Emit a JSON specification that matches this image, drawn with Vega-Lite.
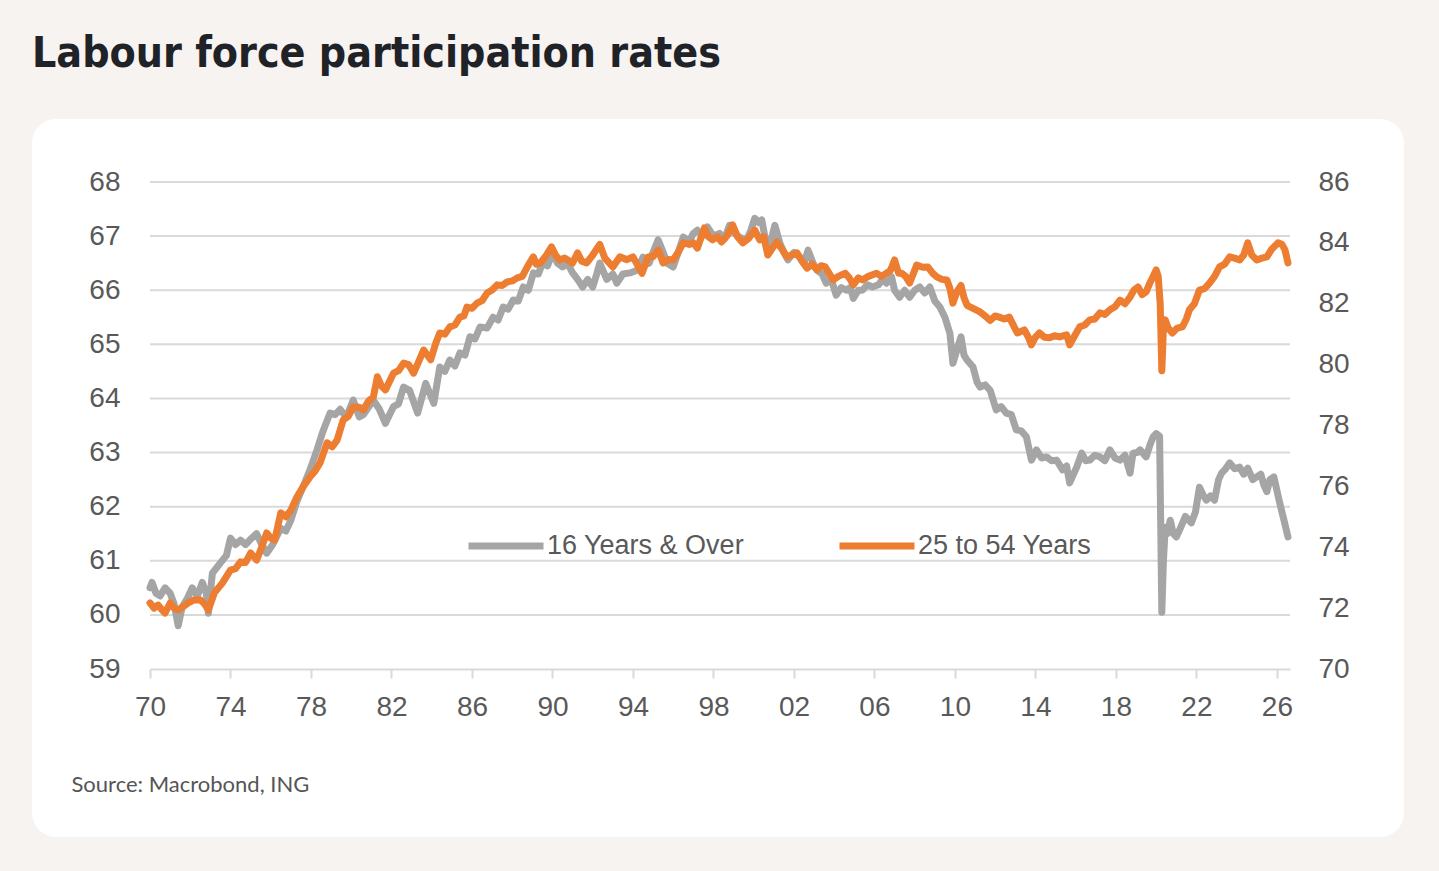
{
  "$schema": "https://vega.github.io/schema/vega-lite/v6.json",
  "width": 1140,
  "height": 487,
  "autosize": {"type": "none"},
  "padding": {"left": 150, "top": 182, "right": 149, "bottom": 202},
  "background": "#f6f3f0",
  "config": {
    "view": {"stroke": null},
    "axis": {"labelFont": "Liberation Sans", "labelFontSize": 28, "labelColor": "#595959", "zindex": 1, "grid": false}
  },
  "title": {
    "text": "Labour force participation rates",
    "anchor": "start",
    "frame": "group",
    "dx": -118,
    "offset": 10,
    "baseline": "alphabetic",
    "font": "DejaVu Sans Condensed, Roboto, sans-serif",
    "fontSize": 42.5,
    "fontWeight": "bold",
    "color": "#1f2226"
  },
  "datasets": {
    "panel": [{"t": 1964.137, "t2": 2032.31, "v": 69.164, "v2": 55.895}],
    "grid": [
      {"t": 1970, "t2": 2026.65, "v": 60}, {"t": 1970, "t2": 2026.65, "v": 61}, {"t": 1970, "t2": 2026.65, "v": 62},
      {"t": 1970, "t2": 2026.65, "v": 63}, {"t": 1970, "t2": 2026.65, "v": 64}, {"t": 1970, "t2": 2026.65, "v": 65},
      {"t": 1970, "t2": 2026.65, "v": 66}, {"t": 1970, "t2": 2026.65, "v": 67}, {"t": 1970, "t2": 2026.65, "v": 68}
    ],
    "all": [
      {"t": 1970.0, "v": 60.5}, {"t": 1970.1, "v": 60.6}, {"t": 1970.3, "v": 60.4}, {"t": 1970.5, "v": 60.35},
      {"t": 1970.75, "v": 60.5}, {"t": 1971.0, "v": 60.4}, {"t": 1971.2, "v": 60.2}, {"t": 1971.4, "v": 59.8},
      {"t": 1971.6, "v": 60.15}, {"t": 1971.85, "v": 60.3}, {"t": 1972.1, "v": 60.5}, {"t": 1972.35, "v": 60.35},
      {"t": 1972.6, "v": 60.6}, {"t": 1972.8, "v": 60.4}, {"t": 1972.9, "v": 60.03}, {"t": 1973.1, "v": 60.77},
      {"t": 1973.5, "v": 60.96}, {"t": 1973.8, "v": 61.1}, {"t": 1974.0, "v": 61.42}, {"t": 1974.25, "v": 61.3},
      {"t": 1974.5, "v": 61.38}, {"t": 1974.75, "v": 61.3}, {"t": 1975.0, "v": 61.4}, {"t": 1975.3, "v": 61.5},
      {"t": 1975.55, "v": 61.3}, {"t": 1975.8, "v": 61.14}, {"t": 1976.1, "v": 61.3}, {"t": 1976.5, "v": 61.6},
      {"t": 1976.75, "v": 61.55}, {"t": 1977.0, "v": 61.75}, {"t": 1977.3, "v": 62.1}, {"t": 1977.6, "v": 62.36},
      {"t": 1977.95, "v": 62.68}, {"t": 1978.3, "v": 63.05}, {"t": 1978.6, "v": 63.4}, {"t": 1978.95, "v": 63.73},
      {"t": 1979.2, "v": 63.7}, {"t": 1979.45, "v": 63.8}, {"t": 1979.75, "v": 63.65}, {"t": 1980.1, "v": 63.97},
      {"t": 1980.4, "v": 63.66}, {"t": 1980.6, "v": 63.7}, {"t": 1981.1, "v": 63.97}, {"t": 1981.4, "v": 63.8},
      {"t": 1981.7, "v": 63.54}, {"t": 1982.1, "v": 63.85}, {"t": 1982.35, "v": 63.9}, {"t": 1982.6, "v": 64.21},
      {"t": 1982.9, "v": 64.15}, {"t": 1983.3, "v": 63.73}, {"t": 1983.7, "v": 64.28}, {"t": 1984.1, "v": 63.91},
      {"t": 1984.4, "v": 64.58}, {"t": 1984.65, "v": 64.5}, {"t": 1984.9, "v": 64.71}, {"t": 1985.15, "v": 64.6},
      {"t": 1985.4, "v": 64.84}, {"t": 1985.65, "v": 64.8}, {"t": 1985.9, "v": 65.14}, {"t": 1986.15, "v": 65.1},
      {"t": 1986.4, "v": 65.32}, {"t": 1986.75, "v": 65.3}, {"t": 1987.05, "v": 65.5}, {"t": 1987.3, "v": 65.45},
      {"t": 1987.55, "v": 65.69}, {"t": 1987.8, "v": 65.65}, {"t": 1988.05, "v": 65.82}, {"t": 1988.3, "v": 65.8},
      {"t": 1988.55, "v": 66.06}, {"t": 1988.8, "v": 66.0}, {"t": 1989.05, "v": 66.32}, {"t": 1989.3, "v": 66.3},
      {"t": 1989.5, "v": 66.5}, {"t": 1989.75, "v": 66.45}, {"t": 1990.0, "v": 66.69}, {"t": 1990.25, "v": 66.5},
      {"t": 1990.5, "v": 66.43}, {"t": 1990.75, "v": 66.5}, {"t": 1991.0, "v": 66.32}, {"t": 1991.25, "v": 66.2},
      {"t": 1991.5, "v": 66.06}, {"t": 1991.75, "v": 66.2}, {"t": 1992.0, "v": 66.06}, {"t": 1992.2, "v": 66.3},
      {"t": 1992.35, "v": 66.5}, {"t": 1992.7, "v": 66.2}, {"t": 1993.0, "v": 66.3}, {"t": 1993.2, "v": 66.13},
      {"t": 1993.5, "v": 66.3}, {"t": 1993.85, "v": 66.32}, {"t": 1994.2, "v": 66.37}, {"t": 1994.5, "v": 66.61},
      {"t": 1994.8, "v": 66.5}, {"t": 1995.0, "v": 66.7}, {"t": 1995.25, "v": 66.93}, {"t": 1995.5, "v": 66.7},
      {"t": 1995.7, "v": 66.5}, {"t": 1996.0, "v": 66.43}, {"t": 1996.25, "v": 66.7}, {"t": 1996.5, "v": 66.98},
      {"t": 1996.8, "v": 66.9}, {"t": 1997.0, "v": 67.05}, {"t": 1997.2, "v": 67.11}, {"t": 1997.45, "v": 67.0},
      {"t": 1997.7, "v": 67.17}, {"t": 1998.0, "v": 67.0}, {"t": 1998.3, "v": 67.05}, {"t": 1998.55, "v": 66.95},
      {"t": 1998.8, "v": 67.2}, {"t": 1999.05, "v": 67.05}, {"t": 1999.3, "v": 66.98}, {"t": 1999.65, "v": 66.93},
      {"t": 1999.85, "v": 67.1}, {"t": 2000.05, "v": 67.33}, {"t": 2000.25, "v": 67.25}, {"t": 2000.4, "v": 67.3},
      {"t": 2000.55, "v": 67.0}, {"t": 2000.7, "v": 66.8}, {"t": 2000.85, "v": 66.9}, {"t": 2001.05, "v": 67.2},
      {"t": 2001.3, "v": 66.87}, {"t": 2001.5, "v": 66.7}, {"t": 2001.7, "v": 66.56}, {"t": 2002.0, "v": 66.7},
      {"t": 2002.3, "v": 66.61}, {"t": 2002.5, "v": 66.5}, {"t": 2002.7, "v": 66.74}, {"t": 2002.95, "v": 66.5},
      {"t": 2003.15, "v": 66.37}, {"t": 2003.4, "v": 66.3}, {"t": 2003.6, "v": 66.13}, {"t": 2003.85, "v": 66.2},
      {"t": 2004.1, "v": 65.91}, {"t": 2004.35, "v": 66.05}, {"t": 2004.6, "v": 66.0}, {"t": 2004.8, "v": 66.05},
      {"t": 2004.95, "v": 65.85}, {"t": 2005.2, "v": 66.0}, {"t": 2005.4, "v": 66.0}, {"t": 2005.65, "v": 66.1},
      {"t": 2005.9, "v": 66.06}, {"t": 2006.2, "v": 66.1}, {"t": 2006.4, "v": 66.2}, {"t": 2006.6, "v": 66.13},
      {"t": 2006.85, "v": 66.25}, {"t": 2007.0, "v": 66.0}, {"t": 2007.25, "v": 65.87}, {"t": 2007.5, "v": 66.0},
      {"t": 2007.75, "v": 65.87}, {"t": 2008.0, "v": 66.0}, {"t": 2008.25, "v": 66.06}, {"t": 2008.5, "v": 65.95},
      {"t": 2008.75, "v": 66.06}, {"t": 2009.0, "v": 65.8}, {"t": 2009.25, "v": 65.69}, {"t": 2009.5, "v": 65.5},
      {"t": 2009.75, "v": 65.2}, {"t": 2009.9, "v": 64.65}, {"t": 2010.1, "v": 64.9}, {"t": 2010.3, "v": 65.14},
      {"t": 2010.45, "v": 64.8}, {"t": 2010.6, "v": 64.71}, {"t": 2010.9, "v": 64.58}, {"t": 2011.1, "v": 64.3},
      {"t": 2011.25, "v": 64.21}, {"t": 2011.5, "v": 64.25}, {"t": 2011.75, "v": 64.15}, {"t": 2012.05, "v": 63.79},
      {"t": 2012.3, "v": 63.85}, {"t": 2012.55, "v": 63.73}, {"t": 2012.8, "v": 63.7}, {"t": 2013.05, "v": 63.42},
      {"t": 2013.3, "v": 63.4}, {"t": 2013.55, "v": 63.29}, {"t": 2013.8, "v": 62.86}, {"t": 2014.05, "v": 63.05},
      {"t": 2014.3, "v": 62.9}, {"t": 2014.55, "v": 62.92}, {"t": 2014.8, "v": 62.85}, {"t": 2015.05, "v": 62.86},
      {"t": 2015.35, "v": 62.68}, {"t": 2015.55, "v": 62.75}, {"t": 2015.7, "v": 62.44}, {"t": 2016.05, "v": 62.73},
      {"t": 2016.3, "v": 62.99}, {"t": 2016.5, "v": 62.85}, {"t": 2016.7, "v": 62.86}, {"t": 2016.95, "v": 62.95},
      {"t": 2017.2, "v": 62.92}, {"t": 2017.45, "v": 62.85}, {"t": 2017.7, "v": 63.05}, {"t": 2017.95, "v": 62.9},
      {"t": 2018.2, "v": 62.86}, {"t": 2018.45, "v": 62.95}, {"t": 2018.7, "v": 62.62}, {"t": 2018.85, "v": 62.99},
      {"t": 2019.05, "v": 63.0}, {"t": 2019.2, "v": 63.05}, {"t": 2019.5, "v": 62.92}, {"t": 2019.7, "v": 63.15},
      {"t": 2019.85, "v": 63.29}, {"t": 2020.0, "v": 63.35}, {"t": 2020.17, "v": 63.3}, {"t": 2020.28, "v": 60.05},
      {"t": 2020.36, "v": 61.0}, {"t": 2020.45, "v": 61.62}, {"t": 2020.55, "v": 61.5}, {"t": 2020.7, "v": 61.75},
      {"t": 2020.85, "v": 61.5}, {"t": 2021.0, "v": 61.44}, {"t": 2021.2, "v": 61.6}, {"t": 2021.45, "v": 61.82},
      {"t": 2021.75, "v": 61.7}, {"t": 2021.95, "v": 61.9}, {"t": 2022.15, "v": 62.36}, {"t": 2022.35, "v": 62.2},
      {"t": 2022.5, "v": 62.12}, {"t": 2022.7, "v": 62.2}, {"t": 2022.9, "v": 62.12}, {"t": 2023.1, "v": 62.5},
      {"t": 2023.25, "v": 62.62}, {"t": 2023.45, "v": 62.7}, {"t": 2023.65, "v": 62.81}, {"t": 2023.9, "v": 62.7},
      {"t": 2024.15, "v": 62.73}, {"t": 2024.35, "v": 62.6}, {"t": 2024.55, "v": 62.71}, {"t": 2024.8, "v": 62.5},
      {"t": 2025.0, "v": 62.55}, {"t": 2025.2, "v": 62.6}, {"t": 2025.35, "v": 62.4}, {"t": 2025.5, "v": 62.28},
      {"t": 2025.65, "v": 62.5}, {"t": 2025.85, "v": 62.55}, {"t": 2026.0, "v": 62.3}, {"t": 2026.15, "v": 62.05},
      {"t": 2026.35, "v": 61.75}, {"t": 2026.55, "v": 61.44}
    ],
    "prime": [
      {"t": 1970.0, "v": 72.17}, {"t": 1970.2, "v": 72.0}, {"t": 1970.4, "v": 72.1}, {"t": 1970.6, "v": 71.94},
      {"t": 1970.75, "v": 71.84}, {"t": 1971.0, "v": 72.17}, {"t": 1971.2, "v": 72.0}, {"t": 1971.4, "v": 71.94},
      {"t": 1971.65, "v": 72.05}, {"t": 1971.9, "v": 72.17}, {"t": 1972.2, "v": 72.27}, {"t": 1972.5, "v": 72.27},
      {"t": 1972.7, "v": 72.15}, {"t": 1972.9, "v": 71.94}, {"t": 1973.2, "v": 72.5}, {"t": 1973.6, "v": 72.83},
      {"t": 1974.0, "v": 73.25}, {"t": 1974.25, "v": 73.3}, {"t": 1974.5, "v": 73.52}, {"t": 1974.75, "v": 73.5},
      {"t": 1975.0, "v": 73.81}, {"t": 1975.3, "v": 73.58}, {"t": 1975.55, "v": 74.0}, {"t": 1975.8, "v": 74.47},
      {"t": 1976.0, "v": 74.3}, {"t": 1976.2, "v": 74.24}, {"t": 1976.5, "v": 75.13}, {"t": 1976.75, "v": 75.0},
      {"t": 1977.0, "v": 75.22}, {"t": 1977.3, "v": 75.65}, {"t": 1977.6, "v": 75.98}, {"t": 1977.95, "v": 76.31},
      {"t": 1978.2, "v": 76.5}, {"t": 1978.45, "v": 76.77}, {"t": 1978.8, "v": 77.43}, {"t": 1979.05, "v": 77.3},
      {"t": 1979.3, "v": 77.52}, {"t": 1979.6, "v": 78.18}, {"t": 1979.85, "v": 78.3}, {"t": 1980.1, "v": 78.61},
      {"t": 1980.4, "v": 78.6}, {"t": 1980.6, "v": 78.51}, {"t": 1980.85, "v": 78.8}, {"t": 1981.1, "v": 78.94},
      {"t": 1981.3, "v": 79.6}, {"t": 1981.5, "v": 79.3}, {"t": 1981.7, "v": 79.17}, {"t": 1982.1, "v": 79.72},
      {"t": 1982.35, "v": 79.8}, {"t": 1982.6, "v": 80.05}, {"t": 1982.85, "v": 80.0}, {"t": 1983.1, "v": 79.72},
      {"t": 1983.35, "v": 80.1}, {"t": 1983.6, "v": 80.48}, {"t": 1983.95, "v": 80.16}, {"t": 1984.2, "v": 80.7},
      {"t": 1984.4, "v": 81.04}, {"t": 1984.65, "v": 81.0}, {"t": 1984.9, "v": 81.24}, {"t": 1985.15, "v": 81.3},
      {"t": 1985.4, "v": 81.56}, {"t": 1985.6, "v": 81.6}, {"t": 1985.75, "v": 81.89}, {"t": 1986.0, "v": 81.85},
      {"t": 1986.25, "v": 82.02}, {"t": 1986.5, "v": 82.1}, {"t": 1986.75, "v": 82.35}, {"t": 1987.0, "v": 82.45},
      {"t": 1987.25, "v": 82.62}, {"t": 1987.5, "v": 82.6}, {"t": 1987.75, "v": 82.72}, {"t": 1988.0, "v": 82.75},
      {"t": 1988.25, "v": 82.85}, {"t": 1988.5, "v": 82.9}, {"t": 1988.75, "v": 83.21}, {"t": 1989.05, "v": 83.54},
      {"t": 1989.2, "v": 83.3}, {"t": 1989.4, "v": 83.34}, {"t": 1989.7, "v": 83.6}, {"t": 1989.95, "v": 83.87},
      {"t": 1990.15, "v": 83.6}, {"t": 1990.35, "v": 83.44}, {"t": 1990.6, "v": 83.5}, {"t": 1991.0, "v": 83.34},
      {"t": 1991.25, "v": 83.67}, {"t": 1991.45, "v": 83.4}, {"t": 1991.7, "v": 83.34}, {"t": 1992.0, "v": 83.6},
      {"t": 1992.35, "v": 83.95}, {"t": 1992.6, "v": 83.5}, {"t": 1993.0, "v": 83.21}, {"t": 1993.35, "v": 83.54},
      {"t": 1993.7, "v": 83.45}, {"t": 1994.0, "v": 83.54}, {"t": 1994.2, "v": 83.3}, {"t": 1994.45, "v": 83.0},
      {"t": 1994.75, "v": 83.54}, {"t": 1995.0, "v": 83.55}, {"t": 1995.25, "v": 83.77}, {"t": 1995.5, "v": 83.34},
      {"t": 1995.75, "v": 83.45}, {"t": 1996.0, "v": 83.44}, {"t": 1996.25, "v": 83.7}, {"t": 1996.5, "v": 84.0},
      {"t": 1996.8, "v": 83.95}, {"t": 1997.0, "v": 84.0}, {"t": 1997.2, "v": 83.83}, {"t": 1997.55, "v": 84.49},
      {"t": 1997.75, "v": 84.2}, {"t": 1997.95, "v": 84.1}, {"t": 1998.2, "v": 84.2}, {"t": 1998.4, "v": 84.03},
      {"t": 1998.7, "v": 84.25}, {"t": 1998.95, "v": 84.59}, {"t": 1999.2, "v": 84.2}, {"t": 1999.45, "v": 84.0},
      {"t": 1999.75, "v": 84.15}, {"t": 2000.05, "v": 84.42}, {"t": 2000.3, "v": 84.1}, {"t": 2000.5, "v": 84.2},
      {"t": 2000.7, "v": 83.6}, {"t": 2000.9, "v": 83.8}, {"t": 2001.15, "v": 84.03}, {"t": 2001.4, "v": 83.8},
      {"t": 2001.65, "v": 83.54}, {"t": 2001.9, "v": 83.6}, {"t": 2002.15, "v": 83.67}, {"t": 2002.4, "v": 83.4},
      {"t": 2002.65, "v": 83.17}, {"t": 2002.9, "v": 83.3}, {"t": 2003.15, "v": 83.11}, {"t": 2003.35, "v": 83.25},
      {"t": 2003.55, "v": 83.21}, {"t": 2003.75, "v": 83.0}, {"t": 2003.95, "v": 82.78}, {"t": 2004.2, "v": 82.9},
      {"t": 2004.55, "v": 83.0}, {"t": 2004.75, "v": 82.85}, {"t": 2004.95, "v": 82.62}, {"t": 2005.2, "v": 82.85},
      {"t": 2005.4, "v": 82.78}, {"t": 2005.7, "v": 82.9}, {"t": 2006.1, "v": 83.0}, {"t": 2006.35, "v": 82.9},
      {"t": 2006.6, "v": 83.0}, {"t": 2006.8, "v": 83.1}, {"t": 2007.0, "v": 83.44}, {"t": 2007.2, "v": 83.0},
      {"t": 2007.35, "v": 83.0}, {"t": 2007.55, "v": 82.9}, {"t": 2007.75, "v": 82.68}, {"t": 2008.1, "v": 83.27},
      {"t": 2008.4, "v": 83.2}, {"t": 2008.65, "v": 83.21}, {"t": 2008.9, "v": 83.0}, {"t": 2009.1, "v": 82.88},
      {"t": 2009.35, "v": 82.8}, {"t": 2009.6, "v": 82.78}, {"t": 2009.75, "v": 82.5}, {"t": 2009.9, "v": 82.02},
      {"t": 2010.1, "v": 82.4}, {"t": 2010.3, "v": 82.6}, {"t": 2010.45, "v": 82.2}, {"t": 2010.6, "v": 81.95},
      {"t": 2010.9, "v": 81.85}, {"t": 2011.25, "v": 81.73}, {"t": 2011.5, "v": 81.6}, {"t": 2011.75, "v": 81.45},
      {"t": 2012.0, "v": 81.6}, {"t": 2012.2, "v": 81.56}, {"t": 2012.45, "v": 81.5}, {"t": 2012.7, "v": 81.56},
      {"t": 2012.9, "v": 81.3}, {"t": 2013.1, "v": 81.04}, {"t": 2013.45, "v": 81.14}, {"t": 2013.65, "v": 80.9},
      {"t": 2013.8, "v": 80.65}, {"t": 2014.0, "v": 80.9}, {"t": 2014.2, "v": 81.04}, {"t": 2014.45, "v": 80.9},
      {"t": 2014.7, "v": 80.88}, {"t": 2014.95, "v": 80.95}, {"t": 2015.2, "v": 80.91}, {"t": 2015.55, "v": 80.98},
      {"t": 2015.7, "v": 80.65}, {"t": 2015.95, "v": 80.95}, {"t": 2016.2, "v": 81.24}, {"t": 2016.45, "v": 81.3},
      {"t": 2016.7, "v": 81.47}, {"t": 2016.95, "v": 81.5}, {"t": 2017.2, "v": 81.7}, {"t": 2017.45, "v": 81.65},
      {"t": 2017.7, "v": 81.8}, {"t": 2017.95, "v": 81.9}, {"t": 2018.2, "v": 82.12}, {"t": 2018.45, "v": 82.0},
      {"t": 2018.7, "v": 82.22}, {"t": 2018.9, "v": 82.45}, {"t": 2019.1, "v": 82.55}, {"t": 2019.3, "v": 82.3},
      {"t": 2019.5, "v": 82.39}, {"t": 2019.7, "v": 82.7}, {"t": 2019.85, "v": 82.9}, {"t": 2020.0, "v": 83.11},
      {"t": 2020.1, "v": 82.9}, {"t": 2020.2, "v": 82.0}, {"t": 2020.28, "v": 79.8}, {"t": 2020.36, "v": 81.2},
      {"t": 2020.45, "v": 81.47}, {"t": 2020.6, "v": 81.2}, {"t": 2020.8, "v": 81.04}, {"t": 2021.05, "v": 81.2},
      {"t": 2021.3, "v": 81.24}, {"t": 2021.5, "v": 81.5}, {"t": 2021.65, "v": 81.8}, {"t": 2021.9, "v": 82.0},
      {"t": 2022.15, "v": 82.45}, {"t": 2022.4, "v": 82.5}, {"t": 2022.65, "v": 82.68}, {"t": 2022.9, "v": 82.9},
      {"t": 2023.15, "v": 83.21}, {"t": 2023.4, "v": 83.3}, {"t": 2023.65, "v": 83.54}, {"t": 2023.9, "v": 83.5},
      {"t": 2024.15, "v": 83.44}, {"t": 2024.35, "v": 83.6}, {"t": 2024.55, "v": 84.0}, {"t": 2024.75, "v": 83.6},
      {"t": 2025.0, "v": 83.44}, {"t": 2025.25, "v": 83.5}, {"t": 2025.5, "v": 83.54}, {"t": 2025.75, "v": 83.8},
      {"t": 2026.05, "v": 84.0}, {"t": 2026.25, "v": 83.95}, {"t": 2026.4, "v": 83.77}, {"t": 2026.55, "v": 83.34}
    ]
  },
  "encoding": {
    "x": {
      "field": "t",
      "type": "quantitative",
      "scale": {"domain": [1970, 2026.65], "nice": false, "zero": false},
      "axis": {
        "zindex": 1,
        "values": [1970, 1974, 1978, 1982, 1986, 1990, 1994, 1998, 2002, 2006, 2010, 2014, 2018, 2022, 2026],
        "labelExpr": "slice(toString(datum.value), 2)",
        "labelFlush": false,
        "labelOverlap": false,
        "domainColor": "#d9d9d9",
        "domainWidth": 2,
        "tickColor": "#d9d9d9",
        "tickWidth": 2,
        "tickSize": 9,
        "labelPadding": 15,
        "title": "Source: Macrobond, ING",
        "titleFont": "Lato",
        "titleFontSize": 22,
        "titleFontWeight": "normal",
        "titleColor": "#555555",
        "titleAnchor": "start",
        "titleAlign": "left",
        "titleBaseline": "middle",
        "titleX": -79,
        "titleY": 115
      }
    }
  },
  "layer": [
    {
      "encoding": {
        "y": {
          "field": "v",
          "type": "quantitative",
          "scale": {"domain": [59, 68], "nice": false, "zero": false},
          "axis": {
            "zindex": 1,
            "orient": "left",
            "values": [59, 60, 61, 62, 63, 64, 65, 66, 67, 68],
            "ticks": false,
            "domain": false,
            "labelPadding": 30,
            "title": null
          }
        }
      },
      "layer": [
        {
          "data": {"name": "panel"},
          "mark": {"type": "rect", "fill": "#ffffff", "cornerRadius": 24, "clip": false},
          "encoding": {"x2": {"field": "t2"}, "y2": {"field": "v2"}}
        },
        {
          "data": {"name": "grid"},
          "mark": {"type": "rule", "color": "#d9d9d9", "strokeWidth": 2},
          "encoding": {"x2": {"field": "t2"}}
        },
        {
          "data": {"name": "all"},
          "mark": {"type": "line", "strokeWidth": 7, "strokeJoin": "round", "strokeCap": "round"},
          "encoding": {
            "color": {
              "datum": "16 Years & Over",
              "type": "nominal",
              "scale": {"domain": ["16 Years & Over", "25 to 54 Years"], "range": ["#a5a5a5", "#ed7d31"]},
              "legend": {
                "orient": "none",
                "legendX": 315,
                "legendY": 323,
                "direction": "horizontal",
                "title": null,
                "symbolType": "stroke",
                "symbolSize": 5625,
                "symbolStrokeWidth": 7,
                "labelFont": "Liberation Sans",
                "labelFontSize": 27,
                "labelColor": "#595959",
                "labelOffset": 0,
                "labelLimit": 400,
                "columnPadding": 80,
                "padding": 0
              }
            }
          }
        }
      ]
    },
    {
      "data": {"name": "prime"},
      "mark": {"type": "line", "strokeWidth": 7, "strokeJoin": "round", "strokeCap": "round"},
      "encoding": {
        "y": {
          "field": "v",
          "type": "quantitative",
          "scale": {"domain": [70, 86], "nice": false, "zero": false},
          "axis": {
            "zindex": 1,
            "orient": "right",
            "values": [70, 72, 74, 76, 78, 80, 82, 84, 86],
            "ticks": false,
            "domain": false,
            "labelPadding": 28,
            "title": null
          }
        },
        "color": {"datum": "25 to 54 Years", "type": "nominal"}
      }
    }
  ],
  "resolve": {"scale": {"y": "independent"}}
}
